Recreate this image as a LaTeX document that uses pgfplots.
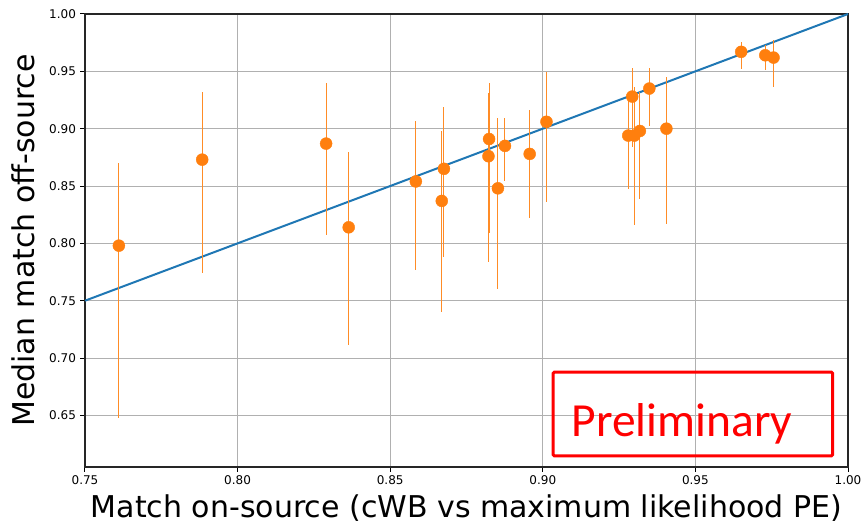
\documentclass[border=0pt]{standalone}
\usepackage{pgfplots}
\pgfplotsset{compat=1.18}
\usepackage{fontspec}
\setmainfont{DejaVu Sans}
\newfontfamily\calfont{Carlito}
\definecolor{mplblue}{HTML}{1F77B4}
\definecolor{mplorange}{HTML}{FF7F0E}
\definecolor{gridgray}{HTML}{B0B0B0}

\begin{document}
\begin{tikzpicture}
\begin{axis}[
  name=ax,
  scale only axis,
  width=763pt, height=453pt,
  xmin=0.75, xmax=1.0, ymin=0.605, ymax=1.0,
  xtick={0.75,0.80,0.85,0.90,0.95,1.00},
  xticklabels={0.75,0.80,0.85,0.90,0.95,1.00},
  ytick={0.65,0.70,0.75,0.80,0.85,0.90,0.95,1.00},
  yticklabels={0.65,0.70,0.75,0.80,0.85,0.90,0.95,1.00},
  x tick label style={font=\fontsize{12}{14}\selectfont, yshift=-1pt},
  y tick label style={font=\fontsize{12}{14}\selectfont, xshift=-1pt},
  grid=major,
  major grid style={color=gridgray, line width=1pt},
  tick align=outside, tick pos=left,
  major tick length=4.5pt,
  tick style={line width=1pt, black},
  axis line style={line width=1.2pt, black!85},
  clip=true,
]
% reference line: equal match on- and off-source
\addplot[mplblue, line width=2pt] coordinates {(0.75,0.75) (1.0,1.0)};

% median off-source match with its spread
\addplot[only marks, mark=*, mark size=6pt, mplorange,
  mark options={fill=mplorange, draw=mplorange},
  error bars/.cd, y dir=both, y explicit, error mark=none,
  error bar style={line width=1pt, mplorange!90!white}]
coordinates {
  (0.7611,0.798) += (0,0.072) -= (0,0.150)
  (0.7884,0.873) += (0,0.059) -= (0,0.099)
  (0.8290,0.887) += (0,0.053) -= (0,0.080)
  (0.8364,0.814) += (0,0.066) -= (0,0.103)
  (0.8584,0.854) += (0,0.053) -= (0,0.077)
  (0.8676,0.865) += (0,0.054) -= (0,0.077)
  (0.8669,0.837) += (0,0.061) -= (0,0.097)
  (0.8824,0.891) += (0,0.049) -= (0,0.082)
  (0.8822,0.876) += (0,0.055) -= (0,0.092)
  (0.8853,0.848) += (0,0.061) -= (0,0.088)
  (0.8876,0.885) += (0,0.024) -= (0,0.031)
  (0.8957,0.878) += (0,0.038) -= (0,0.056)
  (0.9012,0.906) += (0,0.043) -= (0,0.070)
  (0.9280,0.894) += (0,0.030) -= (0,0.047)
  (0.9293,0.928) += (0,0.025) -= (0,0.044)
  (0.9300,0.894) += (0,0.042) -= (0,0.078)
  (0.9318,0.898) += (0,0.034) -= (0,0.059)
  (0.9349,0.935) += (0,0.018) -= (0,0.033)
  (0.9405,0.900) += (0,0.045) -= (0,0.083)
  (0.9650,0.967) += (0,0.009) -= (0,0.015)
  (0.9729,0.964) += (0,0.009) -= (0,0.013)
  (0.9756,0.962) += (0,0.015) -= (0,0.026)
};

% "Preliminary" stamp
\draw[red, line width=3pt, rounded corners=1.5pt]
  (rel axis cs:0.6134,0.0243) rectangle (rel axis cs:0.9800,0.2097);
\node[anchor=base, red, font=\calfont\fontsize{47.5}{54}\selectfont]
  at (rel axis cs:0.7824,0.0684) {Preliminary};
\end{axis}

\node[anchor=base, font=\fontsize{30}{34}\selectfont]
  at ([yshift=-50pt]ax.south) {Match on-source (cWB vs maximum likelihood PE)};
\node[anchor=base, rotate=90, font=\fontsize{30}{34}\selectfont]
  at ([xshift=-50pt]ax.west) {Median match off-source};

% page extent
\path ([shift={(-85pt,-57pt)}]ax.south west) rectangle ([shift={(17pt,14pt)}]ax.north east);
\end{tikzpicture}
\end{document}
